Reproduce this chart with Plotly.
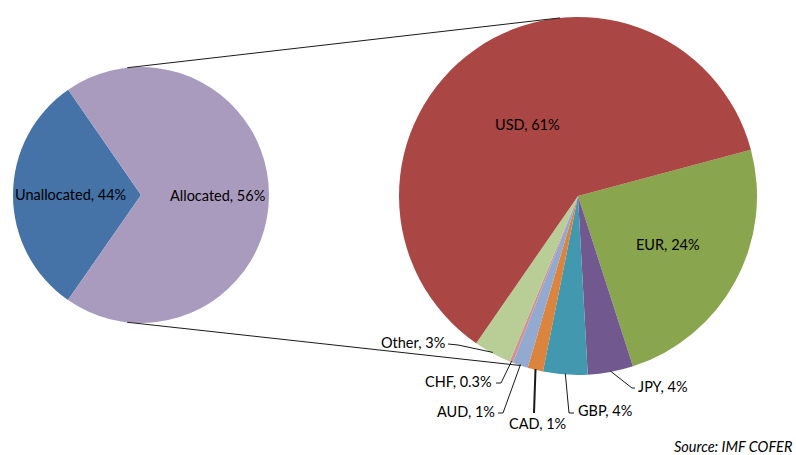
import math
import plotly.graph_objects as go

W, H = 796, 455

# ---- data ----
left_labels = ["Unallocated", "Allocated"]
left_values = [30.7, 69.3]          # drawn slice shares (as in the picture)
left_pct = ["44%", "56%"]            # printed labels
left_colors = ["#4572A7", "#A99BBD"]

right_labels = ["EUR", "JPY", "GBP", "CAD", "AUD", "CHF", "Other", "USD"]
right_values = [24.2, 4.1, 4.0, 1.4, 1.4, 0.3, 3.4, 61.2]
right_pct = ["24%", "4%", "4%", "1%", "1%", "0.3%", "3%", "61%"]
right_colors = ["#89A54E", "#71588F", "#4198AF", "#DB843D", "#93A9CF",
                "#D19392", "#B9CD96", "#AA4643"]

source_text = "Source: IMF COFER"

# ---- geometry (pixels) ----
L_CX, L_CY, L_R, L_ROT = 141, 195, 128, 214.8
R_CX, R_CY, R_R, R_ROT = 578, 196, 179, 75.0
FONT = "Lato"
FS = 14.5


def px(x):
    return x / W


def py(y):
    return 1 - y / H


def mids(values, rot):
    tot = sum(values)
    out, cum = [], 0
    for v in values:
        out.append(rot + 360 * (cum + v / 2) / tot)
        cum += v
    return out


def pt(cx, cy, r, ang):
    a = math.radians(ang)
    return cx + r * math.sin(a), cy - r * math.cos(a)


def label(x, y, text, xa="center"):
    return dict(x=px(x), y=py(y), xref="paper", yref="paper", xanchor=xa,
                yanchor="middle", text=text, showarrow=False,
                font=dict(family=FONT, size=FS, color="black"))


fig = go.Figure()
fig.add_trace(go.Pie(
    labels=left_labels, values=left_values, sort=False, direction="clockwise",
    rotation=L_ROT, marker=dict(colors=left_colors, line=dict(width=0)),
    textinfo="none", hoverinfo="label+percent", showlegend=False,
    domain=dict(x=[px(L_CX - L_R), px(L_CX + L_R)], y=[py(L_CY + L_R), py(L_CY - L_R)]),
))
fig.add_trace(go.Pie(
    labels=right_labels, values=right_values, sort=False, direction="clockwise",
    rotation=R_ROT, marker=dict(colors=right_colors, line=dict(width=0)),
    textinfo="none", hoverinfo="label+percent", showlegend=False,
    domain=dict(x=[px(R_CX - R_R), px(R_CX + R_R)], y=[py(R_CY + R_R), py(R_CY - R_R)]),
))

annotations = []
shapes = []

# inside labels
lm = mids(left_values, L_ROT)
for i, k in zip(range(2), [0.55, 0.6]):
    x, y = pt(L_CX, L_CY, L_R * k, lm[i])
    annotations.append(label(x, y, f"{left_labels[i]}, {left_pct[i]}"))

rm = mids(right_values, R_ROT)
inside_k = {"USD": 0.49, "EUR": 0.57}
for i, lab in enumerate(right_labels):
    if lab in inside_k:
        x, y = pt(R_CX, R_CY, R_R * inside_k[lab], rm[i])
        annotations.append(label(x, y, f"{lab}, {right_pct[i]}"))

# outside labels with leader lines: label anchor, elbow points
outside = {
    "Other": dict(tx=447, ty=342, xa="right", elbow=[(448, 344), (458, 345)], w=1),
    "CHF": dict(tx=494, ty=381, xa="right", elbow=[(496, 383), (501, 383)], w=1),
    "AUD": dict(tx=497, ty=411, xa="right", elbow=[(498, 413), (503, 413)], w=1),
    "CAD": dict(tx=537, ty=423, xa="center", elbow=[(534, 413)], w=2),
    "GBP": dict(tx=576, ty=410, xa="left", elbow=[(574, 413), (569, 413)], w=1),
    "JPY": dict(tx=636, ty=386, xa="left", elbow=[(635, 388), (632, 388)], w=1),
}
for i, lab in enumerate(right_labels):
    if lab not in outside:
        continue
    o = outside[lab]
    annotations.append(label(o["tx"], o["ty"], f"{lab}, {right_pct[i]}", o["xa"]))
    ex, ey = pt(R_CX, R_CY, R_R * 0.995, rm[i])
    pts = o["elbow"] + [(ex, ey)]
    path = "M " + " L ".join(f"{px(a):.5f},{py(b):.5f}" for a, b in pts)
    shapes.append(dict(type="path", path=path, xref="paper", yref="paper",
                       line=dict(color="#1a1a1a", width=o["w"])))

# pie-of-pie connector lines
conn = [(353.8, 354.2), (186.2, 198.7)]
for la, ra in conn:
    x0, y0 = pt(L_CX, L_CY, L_R, la)
    x1, y1 = pt(R_CX, R_CY, R_R, ra)
    shapes.append(dict(type="line", xref="paper", yref="paper",
                       x0=px(x0), y0=py(y0), x1=px(x1), y1=py(y1),
                       line=dict(color="#1a1a1a", width=1)))

annotations.append(label(794, 446, f"<i>{source_text}</i>", "right"))

fig.update_layout(
    width=W, height=H, margin=dict(l=0, r=0, t=0, b=0),
    paper_bgcolor="white", plot_bgcolor="white",
    annotations=annotations, shapes=shapes,
)

fig.write_html("out.html", config={"displayModeBar": False},
               post_script="document.body.style.margin='0';document.body.style.overflow='hidden';")
